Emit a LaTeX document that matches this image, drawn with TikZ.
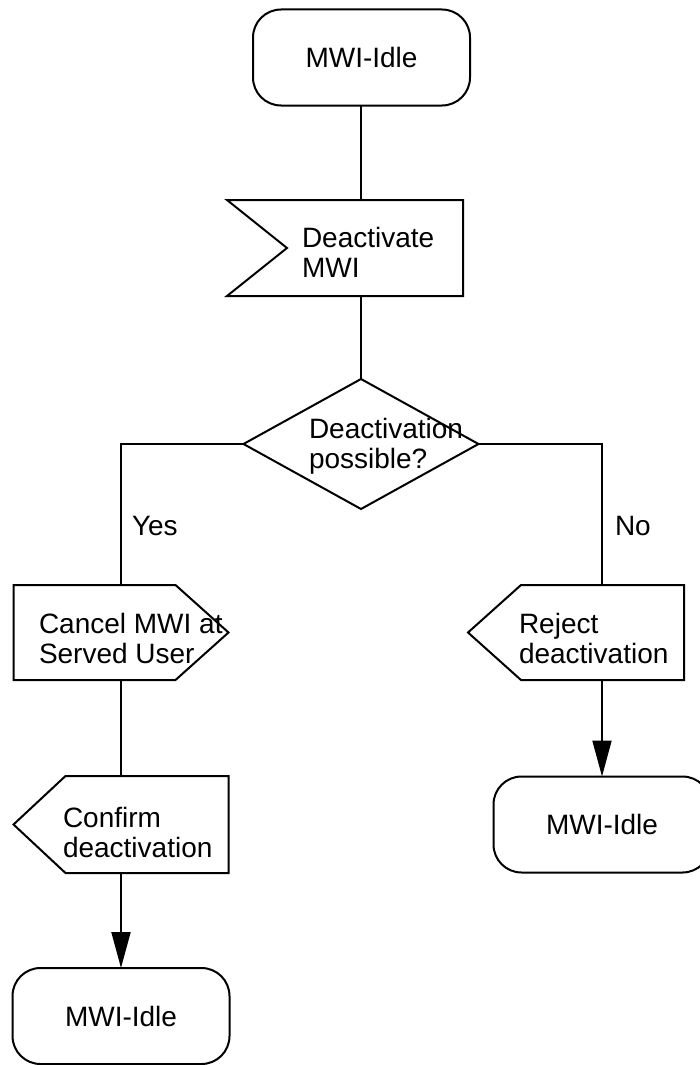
\documentclass[tikz,border=0pt]{standalone}
\usepackage{fontspec}
\setmainfont{Liberation Sans}
\usetikzlibrary{shapes.geometric,arrows.meta,calc}
% two left-aligned lines whose baseline is that of the first line
\newcommand{\twoline}[2]{\vtop{\baselineskip=30.5pt\hbox{#1}\hbox{#2}}}

\begin{document}
\begin{tikzpicture}[x=1pt, y=-1pt, line width=2pt,
  every node/.style={font=\fontsize{28}{31}\selectfont, outer sep=0pt},
  frame/.style={inner sep=0pt},
  state/.style={draw, rounded corners=28pt, inner sep=0pt,
                minimum width=217pt, minimum height=96pt},
  decision/.style={draw, diamond, inner sep=0pt,
                   minimum width=235pt, minimum height=130pt},
  lbl/.style={inner sep=0pt, anchor=base west},
  arr/.style={-{Triangle[length=36pt,width=19pt]}}]

\useasboundingbox (0,0) rectangle (699,1065);

% ---- node frames ----
\node[state] (idle0) at (361.5,57.5) {MWI-Idle};
\node[frame, minimum width=236pt, minimum height=96pt] (in1) at (345,248) {};
\node[decision] (dec) at (361,444) {};
\node[frame, minimum width=215pt, minimum height=95pt] (cancel) at (121,632.5) {};
\node[frame, minimum width=215pt, minimum height=97pt] (confirm) at (121,824.5) {};
\node[state] (idle1) at (121,1016) {MWI-Idle};
\node[frame, minimum width=216pt, minimum height=95pt] (reject) at (576,632.5) {};
\node[state] (idle2) at (602,824.5) {MWI-Idle};

% ---- symbol outlines ----
% input signal: notch on the left
\draw (in1.north west) -- (in1.north east) -- (in1.south east) -- (in1.south west)
      -- ($(in1.west)+(60,0)$) -- cycle;
% output signals
\draw (cancel.north west) -- ($(cancel.north east)+(-53,0)$) -- (cancel.east)
      -- ($(cancel.south east)+(-53,0)$) -- (cancel.south west) -- cycle;
\draw (confirm.west) -- ($(confirm.north west)+(52,0)$) -- (confirm.north east)
      -- (confirm.south east) -- ($(confirm.south west)+(52,0)$) -- cycle;
\draw (reject.west) -- ($(reject.north west)+(53,0)$) -- (reject.north east)
      -- (reject.south east) -- ($(reject.south west)+(53,0)$) -- cycle;

% ---- texts ----
\node[lbl] (t1) at (302,247) {\twoline{Deactivate}{MWI}};
\node[lbl] (t2) at (309,438) {\twoline{Deactivation}{possible?}};
\node[lbl] (t3) at (39,633) {\twoline{Cancel MWI at}{Served User}};
\node[lbl] (t4) at (63,827) {\twoline{Confirm}{deactivation}};
\node[lbl] (t5) at (519,633) {\twoline{Reject}{deactivation}};
\node[lbl] (yes) at (132,535) {Yes};
\node[lbl] (no) at (615,535) {No};

% ---- connectors ----
\draw (dec.north |- idle0.south) -- (dec.north |- in1.north);
\draw (dec.north |- in1.south) -- (dec.north);
\draw (dec.west) -- (dec.west -| cancel.north) -- (cancel.north);
\draw (dec.east) -- (dec.east -| idle2.north) -- (idle2.north |- reject.north);
\draw (cancel.south) -- (confirm.north);
\draw[arr] (confirm.south) -- (idle1.north);
\draw[arr] (idle2.north |- reject.south) -- (idle2.north);
\end{tikzpicture}
\end{document}
